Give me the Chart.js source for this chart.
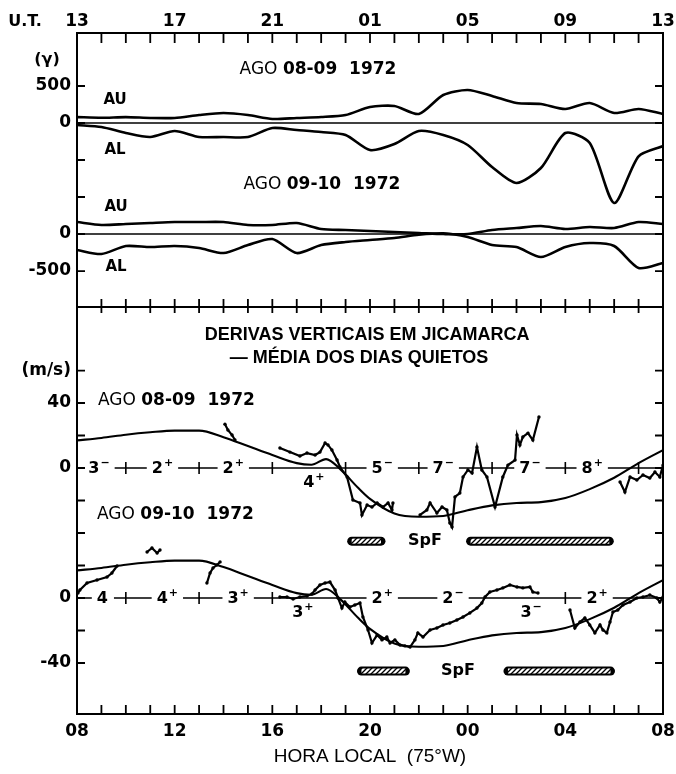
<!DOCTYPE html>
<html><head><meta charset="utf-8">
<script src="https://cdn.jsdelivr.net/npm/chart.js@4.4.1/dist/chart.umd.min.js"></script>
<style>
html,body{margin:0;padding:0;background:#fff;}
#wrap{position:relative;width:676px;height:774px;background:#fff;}
#wrap canvas{position:absolute;left:0;top:0;}
</style></head><body>
<div id="wrap"><canvas id="c1" width="676" height="774"></canvas><canvas id="c2" width="676" height="774"></canvas></div>
<script>
// ---------- DATA ----------
// x = hours after 08 LT (0..24); top axis UT = LT + 5
const hourTicks = [0,1,2,3,4,5,6,7,8,9,10,11,12,13,14,15,16,17,18,19,20,21,22,23,24];
const labelHours = [0,4,8,12,16,20,24];
const localTimeLabels = ['08','12','16','20','00','04','08'];
const utLabels = ['13','17','21','01','05','09','13'];

// Top panel: AU / AL (gamma), hourly
const auHours = [0,1,2,3,4,5,6,7,8,9,10,11,12,13,14,15,16,17,18,19,20,21,22,23,24];
const au0809 = [80,70,80,68,68,108,135,108,54,68,81,108,216,230,122,378,446,365,270,257,189,270,135,189,122];
const al0809 = [-27,-54,-135,-189,-108,-189,-189,-189,-68,-95,-122,-162,-365,-284,-108,-162,-297,-595,-811,-608,-135,-270,-1081,-450,-311];
const au0910 = [162,122,135,149,162,162,162,122,122,149,68,54,40,27,14,0,0,54,81,108,68,95,81,162,135];
const al0910 = [-216,-270,-162,-176,-162,-189,-257,-149,-68,-257,-149,-108,-81,-54,-10,10,-41,-149,-176,-311,-176,-122,-162,-459,-392];
const topDay2Offset = -1500;            // second day plotted 1500 gamma lower
const topTickValues = [500,0,-500,-1000,-1500,-2000];
const topTickLabels = ['500','0','','','0','-500'];

// Bottom panel: quiet-day mean vertical drift (m/s)
const meanHours = [0,1,2,3,4,5,6,7,8,9,9.6,10.2,10.8,11.5,12,13,14,15,16,17,18,19,20,21,22,23,24];
const meanDrift = [17,18.5,20.5,22,23,23,19,13.5,8,3,2,5.5,-1,-12,-19,-28,-30,-29.5,-26,-23,-21.5,-21,-18.5,-13,-6,3,11];

// Measured drifts, AGO 08-09 1972 : segments of [hour, m/s]
const drift0809 = [
 [[6.06,27],[6.18,23.4],[6.35,20.3],[6.47,17.2]],
 [[8.31,12.3],[8.72,9.8],[9.13,7.4],[9.42,9.2],[9.75,8.0],[9.95,9.8],[10.16,15.4],[10.28,14.2],[10.44,11.1],[10.65,4.9],[10.77,0.6],[11.06,-5.5],[11.3,-19.7],[11.59,-21.5],[11.67,-28.9],[11.88,-22.8],[12.08,-24],[12.29,-21.5],[12.53,-24],[12.74,-21.5],[12.9,-25.8],[12.94,-21.5]],
 [[14.05,-28.9],[14.33,-25.8],[14.46,-21.5],[14.74,-27.7],[14.95,-24],[15.15,-25.8],[15.27,-33.8],[15.36,-36.3],[15.48,-17.8],[15.68,-15.4],[15.81,-5.5],[16.01,-1.2],[16.18,-3.1],[16.38,12.9],[16.58,-1.2],[16.79,-5.5],[17.12,-24],[17.44,-5.5],[17.65,1.8],[17.94,4.9],[18.02,20.3],[18.14,14.2],[18.26,19.1],[18.47,21.5],[18.67,17.2],[18.92,31.4]],
 [[22.24,-8.6],[22.44,-14.8],[22.65,-5.5],[22.93,-7.4],[23.18,-4.3],[23.46,-6.2],[23.67,-2.5],[23.87,-5.5],[24.0,1.8]]
];
// Measured drifts, AGO 09-10 1972 (relative to its own zero line)
const drift0910 = [
 [[0.04,3.1],[0.12,4.9],[0.41,9.2],[0.82,11.1],[1.23,12.9],[1.43,15.4],[1.64,19.7]],
 [[2.87,28.3],[3.07,30.8],[3.28,27.7],[3.4,29.5]],
 [[5.32,9.2],[5.45,15.4],[5.57,18.5],[5.73,20.3],[5.86,22.2]],
 [[8.31,0.6],[8.6,0.6],[8.85,-0.6],[9.13,0.6],[9.42,1.2],[9.62,2.5],[9.75,4.9],[9.95,8.0],[10.16,9.2],[10.36,9.8],[10.57,4.9],[10.69,0],[10.85,-6.2],[10.97,-2.5],[11.18,-5.5],[11.38,-4.3],[11.59,-3.1],[11.71,-11.7],[11.92,-19.7],[12.08,-27.7],[12.29,-22.8],[12.49,-25.8],[12.69,-24],[12.82,-27.7],[13.02,-25.8],[13.23,-28.9],[13.43,-29.5],[13.64,-30.2],[13.84,-25.8],[13.96,-21.5],[14.17,-24],[14.46,-19.7],[14.74,-18.5],[14.99,-16.6],[15.27,-15.4],[15.56,-13.5],[15.81,-11.7],[16.09,-9.2],[16.38,-6.2],[16.58,-3.1],[16.71,0.6],[16.91,3.7],[17.2,4.9],[17.44,6.2],[17.73,8.0],[18.02,6.8],[18.26,6.2],[18.55,6.8],[18.67,3.7],[18.88,3.1]],
 [[20.19,-7.4],[20.39,-18.5],[20.6,-14.8],[20.8,-12.3],[21.0,-16.6],[21.21,-21.5],[21.42,-16.6],[21.54,-19.7],[21.7,-21.5],[21.83,-14.8],[21.95,-8.6],[22.15,-7.4],[22.36,-4.3],[22.65,-2.5],[22.93,0],[23.18,0.6],[23.46,1.8],[23.75,0],[23.87,-2.5],[24.0,0.6]]
];
const bottomDay2Offset = -80;
const bottomTickValues = [60,40,20,0,-20,-40,-60,-80,-100,-120];
const bottomTickLabels = ['(m/s)','40','','0','','','','0','','-40'];

// Spread-F intervals [start hour, end hour], bar level (m/s relative)
const spf0809 = [[11.25,12.45],[16.12,21.8]];
const spf0910 = [[11.65,13.45],[17.65,21.85]];
const spfLevel = -45;

// Kp indices along the zero lines
const kpCrossHours0809 = [2,5,8,11,14,17,20,23];
const kpCrossHours0910 = [2,5,8,20];
const kp0809 = ['3-','2+','2+','4+','5-','7-','7-','8+'];
const kpHours0809 = [0.9,3.5,6.4,9.7,12.5,15.0,18.55,21.1];
const kpBelow0809 = [0,0,0,1,0,0,0,0];
const kp0910 = ['4','4+','3+','3+','2+','2-','3-','2+'];
const kpHours0910 = [1.06,3.7,6.6,9.25,12.5,15.4,18.6,21.3];
const kpBelow0910 = [0,0,0,1,0,0,1,0];

// ---------- HELPERS ----------
const FONT = '"DejaVu Sans", "Liberation Sans", sans-serif';
function pts(xs, ys, off){ return xs.map((x,i)=>({x:x, y:ys[i]+(off||0)})); }
function segs(list, off){
  const out=[];
  list.forEach((s,i)=>{ if(i) out.push({x:s[0][0], y:null}); s.forEach(p=>out.push({x:p[0], y:p[1]+(off||0)})); });
  return out;
}
function hatch(){
  const c=document.createElement('canvas'); c.width=5; c.height=5;
  const g=c.getContext('2d'); g.fillStyle='#fff'; g.fillRect(0,0,5,5);
  g.strokeStyle='#000'; g.lineWidth=1.3; g.beginPath();
  g.moveTo(0,5); g.lineTo(5,0); g.moveTo(-1,1); g.lineTo(1,-1); g.moveTo(4,6); g.lineTo(6,4); g.stroke();
  return g.createPattern(c,'repeat');
}
const hatchPattern = hatch();

function lineDS(data, w){ return {data, borderColor:'#000', borderWidth:w, pointRadius:0, tension:0.25, fill:false}; }
function dotDS(data){ return {data, borderColor:'#000', borderWidth:2.2, pointRadius:1.7, pointBackgroundColor:'#000', pointBorderWidth:0, tension:0, fill:false, spanGaps:false}; }
function meanDS(data){ return {data, borderColor:'#000', borderWidth:2.1, pointRadius:0, cubicInterpolationMode:'monotone', fill:false}; }

function text(ctx, s, x, y, font, align){
  ctx.font = font; ctx.textAlign = align||'center'; ctx.textBaseline='middle'; ctx.fillStyle='#000';
  ctx.fillText(s, x, y);
}
function agoText(ctx, rest, x, y, align){
  ctx.font = '17px '+FONT; const w1 = ctx.measureText('AGO ').width;
  ctx.font = 'bold 17px '+FONT; const w2 = ctx.measureText(rest).width;
  let x0 = align==='left' ? x : x-(w1+w2)/2;
  text(ctx,'AGO ',x0,y,'17px '+FONT,'left');
  text(ctx,rest,x0+w1,y,'bold 17px '+FONT,'left');
}
function kpLabel(ctx, label, x, y, below){
  const d = label[0], sg = label.slice(1);
  const sign = sg==='+'?'+':(sg==='-'?'\u2212':'');
  ctx.font='bold 16px '+FONT; const wd=ctx.measureText(d).width;
  ctx.font='bold 11px '+FONT; const ws= sign?ctx.measureText(sign).width:0;
  const w = wd+ws+1;
  const cy = below ? y+14 : y;
  if(!below){ ctx.fillStyle='#fff'; ctx.fillRect(x-w/2-5, y-3, w+10, 6); }
  text(ctx,d,x-w/2,cy+1,'bold 16px '+FONT,'left');
  if(sign) text(ctx,sign,x-w/2+wd+1,cy-5,'bold 11px '+FONT,'left');
}
const noGrid = {display:false, drawTicks:false, tickLength:0};
function fixX(h){ return s=>{ s.height=h; s.paddingLeft=0; s.paddingRight=0; }; }
function fixY(w){ return s=>{ s.width=w; s.paddingTop=0; s.paddingBottom=0; }; }

// ---------- TOP CHART ----------
const topPlugin = {
  id:'topFrame',
  afterDraw(chart){
    const {ctx, chartArea:a, scales:{x,y}} = chart;
    ctx.save();
    ctx.strokeStyle='#000'; ctx.lineWidth=2;
    ctx.strokeRect(a.left,a.top,a.right-a.left,a.bottom-a.top);
    ctx.lineWidth=1.8; ctx.beginPath();
    hourTicks.forEach(h=>{ if(h>0&&h<24){ const px=x.getPixelForValue(h); ctx.moveTo(px,a.top); ctx.lineTo(px,a.top+10);} });
    topTickValues.forEach(v=>{ const py=y.getPixelForValue(v); ctx.moveTo(a.left,py); ctx.lineTo(a.left+8,py); ctx.moveTo(a.right,py); ctx.lineTo(a.right-8,py); });
    ctx.stroke();
    text(ctx,'U.T.',a.left-52,a.top-11,'bold 16px '+FONT);
    text(ctx,'(\u03b3)',a.left-30,y.getPixelForValue(851),'bold 16px '+FONT);
    text(ctx,'AU',x.getPixelForValue(1.56),y.getPixelForValue(311),'bold 15px '+FONT);
    text(ctx,'AL',x.getPixelForValue(1.56),y.getPixelForValue(-365),'bold 15px '+FONT);
    text(ctx,'AU',x.getPixelForValue(1.6),y.getPixelForValue(-1135),'bold 15px '+FONT);
    text(ctx,'AL',x.getPixelForValue(1.6),y.getPixelForValue(-1946),'bold 15px '+FONT);
    agoText(ctx,'08-09  1972',x.getPixelForValue(9.87),y.getPixelForValue(716),'center');
    agoText(ctx,'09-10  1972',x.getPixelForValue(10.03),y.getPixelForValue(-838),'center');
    ctx.restore();
  }
};

new Chart(document.getElementById('c1'), {
  type:'line',
  data:{datasets:[
    lineDS(pts(auHours,au0809),2.6),
    lineDS(pts(auHours,al0809),2.6),
    lineDS(pts(auHours,au0910,topDay2Offset),2.6),
    lineDS(pts(auHours,al0910,topDay2Offset),2.6),
    lineDS(pts([0,24],[0,0]),1.3),
    lineDS(pts([0,24],[0,0],topDay2Offset),1.3)
  ]},
  options:{
    responsive:false, animation:false, devicePixelRatio:1,
    layout:{padding:{left:0,right:13,top:0,bottom:467}},
    plugins:{legend:{display:false},tooltip:{enabled:false}},
    scales:{
      x:{type:'linear',position:'top',min:0,max:24,
        afterBuildTicks:s=>{s.ticks=labelHours.map(v=>({value:v}));},
        afterFit:fixX(33),
        ticks:{callback:(v,i)=>utLabels[i],font:{family:FONT,size:17,weight:'bold'},color:'#000',padding:1,maxRotation:0,autoSkip:false},
        grid:noGrid,border:{display:false}},
      y:{type:'linear',position:'left',min:-2486,max:1216,
        afterBuildTicks:s=>{s.ticks=topTickValues.map(v=>({value:v}));},
        afterFit:fixY(77),
        ticks:{callback:(v,i)=>topTickLabels[i],font:{family:FONT,size:17,weight:'bold'},color:'#000',padding:6,autoSkip:false},
        grid:noGrid,border:{display:false}}
    }
  },
  plugins:[topPlugin]
});

// ---------- BOTTOM CHART ----------
const botPlugin = {
  id:'botFrame',
  beforeDatasetsDraw(chart){
    const {ctx, chartArea:a, scales:{x,y}} = chart;
    ctx.save();
    [[0,kpCrossHours0809,kp0809,kpHours0809,kpBelow0809],[bottomDay2Offset,kpCrossHours0910,kp0910,kpHours0910,kpBelow0910]].forEach(([off,cr,kp,kh,kb])=>{
      const py=y.getPixelForValue(off);
      ctx.strokeStyle='#000'; ctx.lineWidth=1.6; ctx.beginPath();
      ctx.moveTo(a.left,py); ctx.lineTo(a.right,py);
      cr.forEach(h=>{const px=x.getPixelForValue(h); ctx.moveTo(px,py-6); ctx.lineTo(px,py+6);});
      ctx.stroke();
      kp.forEach((k,i)=>kpLabel(ctx,k,x.getPixelForValue(kh[i]),py,kb[i]));
    });
    ctx.restore();
  },
  afterDraw(chart){
    const {ctx, chartArea:a, scales:{x,y}} = chart;
    ctx.save();
    ctx.strokeStyle='#000'; ctx.lineWidth=2;
    ctx.strokeRect(a.left,a.top,a.right-a.left,a.bottom-a.top);
    ctx.lineWidth=1.8; ctx.beginPath();
    hourTicks.forEach(h=>{ if(h>0&&h<24){ const px=x.getPixelForValue(h);
      ctx.moveTo(px,a.bottom); ctx.lineTo(px,a.bottom-9);
      ctx.moveTo(px,a.top-8); ctx.lineTo(px,a.top+6);} });
    bottomTickValues.forEach(v=>{ const py=y.getPixelForValue(v); ctx.moveTo(a.left,py); ctx.lineTo(a.left+8,py); ctx.moveTo(a.right,py); ctx.lineTo(a.right-8,py); });
    ctx.stroke();
    text(ctx,'DERIVAS VERTICAIS EM JICAMARCA',x.getPixelForValue(11.88),y.getPixelForValue(81.8),'bold 18px "Liberation Sans", Arial, sans-serif');
    text(ctx,'\u2014 M\u00c9DIA DOS DIAS QUIETOS',x.getPixelForValue(11.55),y.getPixelForValue(67.7),'bold 18px "Liberation Sans", Arial, sans-serif');
    agoText(ctx,'08-09  1972',x.getPixelForValue(0.86),y.getPixelForValue(41.8),'left');
    agoText(ctx,'09-10  1972',x.getPixelForValue(0.82),y.getPixelForValue(-28.9),'left');
    text(ctx,'SpF',x.getPixelForValue(14.25),y.getPixelForValue(spfLevel),'bold 16px '+FONT);
    text(ctx,'SpF',x.getPixelForValue(15.6),y.getPixelForValue(spfLevel+bottomDay2Offset),'bold 16px '+FONT);
    ctx.restore();
  }
};

function spfSets(intervals, off){
  const out=[];
  intervals.forEach(iv=>{
    const d = pts(iv,[spfLevel,spfLevel],off);
    out.push({data:d, borderColor:hatchPattern, borderWidth:5, borderCapStyle:'butt', pointRadius:0, order:0});
    out.push({data:d, borderColor:'#000', borderWidth:9, borderCapStyle:'round', pointRadius:0, order:1});
  });
  return out;
}

new Chart(document.getElementById('c2'), {
  type:'line',
  data:{datasets:[
    Object.assign(dotDS(segs(drift0809,0)),{order:0}),
    Object.assign(dotDS(segs(drift0910,bottomDay2Offset)),{order:0}),
    Object.assign(meanDS(pts(meanHours,meanDrift)),{order:1}),
    Object.assign(meanDS(pts(meanHours,meanDrift,bottomDay2Offset)),{order:1}),
    ...spfSets(spf0809,0),
    ...spfSets(spf0910,bottomDay2Offset)
  ]},
  options:{
    responsive:false, animation:false, devicePixelRatio:1,
    layout:{padding:{left:0,right:13,top:307,bottom:0}},
    plugins:{legend:{display:false},tooltip:{enabled:false}},
    scales:{
      x:{type:'linear',position:'bottom',min:0,max:24,
        afterBuildTicks:s=>{s.ticks=labelHours.map(v=>({value:v}));},
        afterFit:fixX(60),
        ticks:{callback:(v,i)=>localTimeLabels[i],font:{family:FONT,size:17,weight:'bold'},color:'#000',padding:7,maxRotation:0,autoSkip:false},
        title:{display:true,text:'HORA LOCAL  (75\u00b0W)',color:'#000',font:{family:'"Liberation Sans", Arial, sans-serif',size:19},padding:{top:0,bottom:6}},
        grid:noGrid,border:{display:false}},
      y:{type:'linear',position:'left',min:-151.4,max:99.1,
        afterBuildTicks:s=>{s.ticks=bottomTickValues.map(v=>({value:v}));},
        afterFit:fixY(77),
        ticks:{callback:(v,i)=>bottomTickLabels[i],font:{family:FONT,size:17,weight:'bold'},color:'#000',padding:6,autoSkip:false},
        grid:noGrid,border:{display:false}}
    }
  },
  plugins:[botPlugin]
});
</script>
</body></html>
